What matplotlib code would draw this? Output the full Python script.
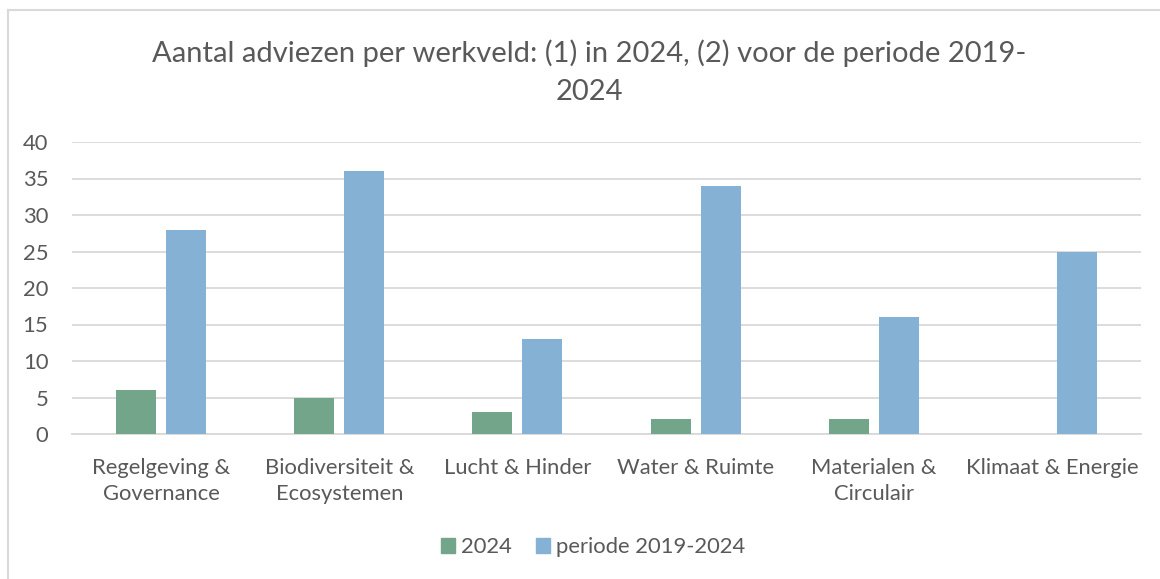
import matplotlib
matplotlib.use('Agg')
import matplotlib.pyplot as plt
from matplotlib.lines import Line2D
from matplotlib.patches import Patch
import numpy as np

plt.rcParams['font.family'] = ['Lato', 'DejaVu Sans']

# data
werkvelden = ['Regelgeving &\nGovernance', 'Biodiversiteit &\nEcosystemen', 'Lucht & Hinder',
              'Water & Ruimte', 'Materialen &\nCirculair', 'Klimaat & Energie']
adviezen_2024 = [6, 5, 3, 2, 2, 0]
adviezen_periode = [28, 36, 13, 34, 16, 25]

GROEN = '#73A58B'
BLAUW = '#85B1D4'
TEKST = '#595959'
RASTER = '#D9D9D9'

W, H = 1160, 579
fig = plt.figure(figsize=(W / 100, H / 100), dpi=100)

# kader van de grafiek (alleen boven en links zichtbaar)
fig.add_artist(Line2D([8 / W, 1.0], [1 - 10 / H, 1 - 10 / H], color=RASTER, lw=1.5))
fig.add_artist(Line2D([8 / W, 8 / W], [0.0, 1 - 10 / H], color=RASTER, lw=1.5))

ax = fig.add_axes([72 / W, (H - 434) / H, (1141 - 72) / W, (434 - 142) / H])

x = np.arange(len(werkvelden))
bw = 40 / 178
off = 25 / 178
ax.bar(x - off, adviezen_2024, bw, color=GROEN, label='2024', zorder=3)
ax.bar(x + off, adviezen_periode, bw, color=BLAUW, label='periode 2019-2024', zorder=3)

ax.set_xlim(-0.5, len(werkvelden) - 0.5)
ax.set_ylim(0, 40)
ax.set_yticks(range(0, 41, 5))
ax.yaxis.grid(True, color=RASTER, lw=1.3, zorder=0)
ax.set_axisbelow(True)
for s in ['top', 'right', 'left']:
    ax.spines[s].set_visible(False)
ax.spines['bottom'].set_color(RASTER)
ax.spines['bottom'].set_linewidth(1.3)
ax.tick_params(axis='both', length=0, colors=TEKST, labelsize=15.8)
ax.tick_params(axis='y', pad=17)
ax.tick_params(axis='x', pad=17)
ax.set_xticks(x)
ax.set_xticklabels(werkvelden, linespacing=1.4)

fig.text(589 / W, 1 - 72 / H, 'Aantal adviezen per werkveld: (1) in 2024, (2) voor de periode 2019-\n2024',
         ha='center', va='center', fontsize=21, color=TEKST, linespacing=1.6)

handles = [Patch(color=GROEN), Patch(color=BLAUW)]
fig.legend(handles, ['2024', 'periode 2019-2024'], loc='center', bbox_to_anchor=(593 / W, 1 - 547 / H),
           ncol=2, frameon=False, fontsize=15.8, labelcolor=TEKST, handlelength=0.65, handleheight=0.65,
           handletextpad=0.25, columnspacing=1.1)

fig.savefig('out.png', dpi=100, facecolor='white')
